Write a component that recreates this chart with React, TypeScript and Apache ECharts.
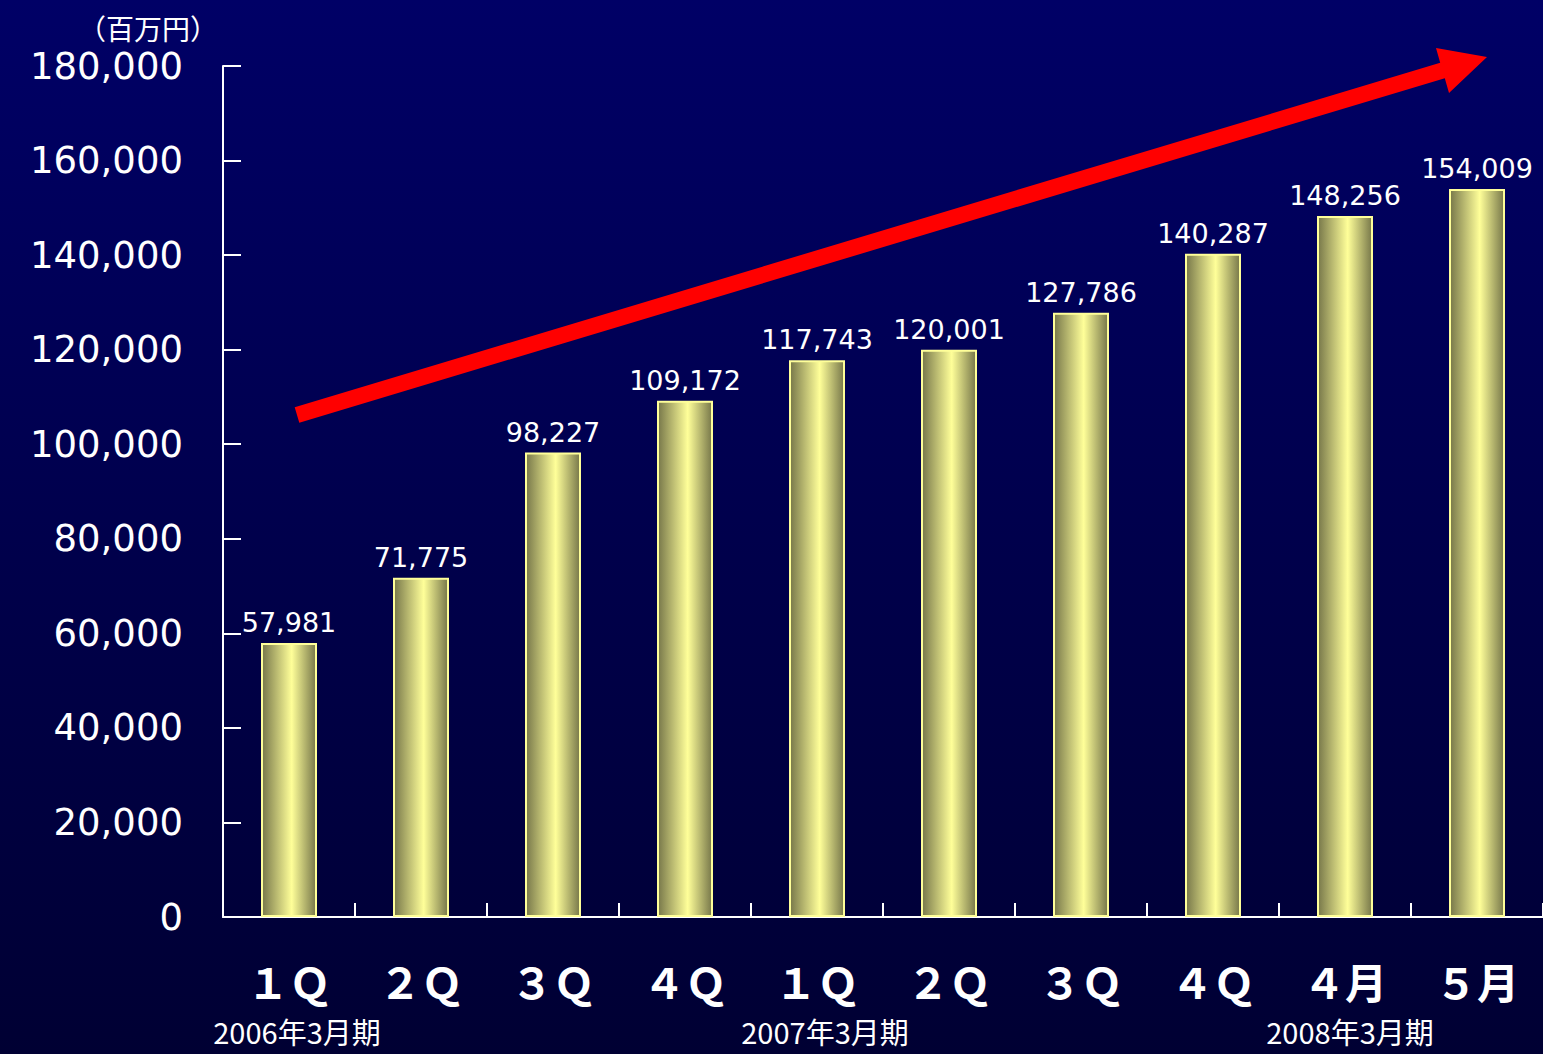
import React, { useEffect, useRef } from "react";
import * as echarts from "echarts";

const categories = ["１Ｑ", "２Ｑ", "３Ｑ", "４Ｑ", "１Ｑ", "２Ｑ", "３Ｑ", "４Ｑ", "４月", "５月"];
const values = [57981, 71775, 98227, 109172, 117743, 120001, 127786, 140287, 148256, 154009];
const periodLabels = ["2006年3月期", "2007年3月期", "2008年3月期"];
const unitLabel = "（百万円）";

const fmt = (v: number) => v.toLocaleString("en-US");

export default function App() {
  const ref = useRef<HTMLDivElement>(null);
  useEffect(() => {
    if (!ref.current) return;
    const chart = echarts.init(ref.current, undefined, { renderer: "svg" });
    const barGrad = new echarts.graphic.LinearGradient(0, 0, 1, 0, [
      { offset: 0, color: "#77774a" },
      { offset: 0.55, color: "#ffff99" },
      { offset: 1, color: "#77774a" },
    ]);
    chart.setOption({
      animation: false,
      backgroundColor: "transparent",
      grid: { left: 223, right: 0, top: 66, bottom: 137, containLabel: false },
      xAxis: {
        type: "category",
        data: categories,
        axisLine: { show: true, lineStyle: { color: "#ffffff", width: 2 } },
        axisTick: { show: true, inside: true, length: 14, lineStyle: { color: "#ffffff", width: 2 } },
        axisLabel: {
          color: "#ffffff",
          fontSize: 42,
          fontWeight: "bold",
          fontFamily: "Noto Sans CJK JP",
          margin: 42,
          interval: 0,
        },
        splitLine: { show: false },
      },
      yAxis: {
        type: "value",
        min: 0,
        max: 180000,
        interval: 20000,
        axisLine: { show: true, lineStyle: { color: "#ffffff", width: 2 } },
        axisTick: { show: true, inside: true, length: 18, lineStyle: { color: "#ffffff", width: 2 } },
        axisLabel: {
          color: "#ffffff",
          fontSize: 37,
          fontFamily: "DejaVu Sans",
          margin: 40,
          formatter: (v: number) => fmt(v),
        },
        splitLine: { show: false },
      },
      series: [
        {
          type: "bar",
          data: values,
          barWidth: 56,
          itemStyle: { color: barGrad, borderColor: "#ffff99", borderWidth: 2 },
          label: {
            show: true,
            position: "top",
            distance: 7,
            color: "#ffffff",
            fontSize: 27,
            fontFamily: "DejaVu Sans",
            formatter: (p: any) => fmt(p.value),
          },
        },
      ],
      graphic: [
        {
          type: "polygon",
          shape: {
            points: [
              [294.7, 407.3],
              [1440.2, 62.8],
              [1436, 48],
              [1487, 57],
              [1449, 93],
              [1444.8, 78.2],
              [299.3, 422.7],
            ],
          },
          style: { fill: "#ff0000" },
          z: 100,
        },
        {
          type: "text",
          x: 148,
          y: 28,
          style: {
            text: unitLabel,
            fill: "#ffffff",
            font: "28px 'Noto Sans CJK JP'",
            textAlign: "center",
            textVerticalAlign: "middle",
          },
        },
        ...[297, 825, 1350].map((x, i) => ({
          type: "text",
          x,
          y: 1031,
          style: {
            text: periodLabels[i],
            fill: "#ffffff",
            font: "29px 'Noto Sans CJK JP'",
            textAlign: "center",
            textVerticalAlign: "middle",
          },
        })),
      ],
    });
    return () => chart.dispose();
  }, []);
  return (
    <div
      ref={ref}
      style={{
        position: "fixed",
        left: 0,
        top: 0,
        width: 1543,
        height: 1054,
        background: "linear-gradient(to bottom, #000066 0%, #000033 100%)",
      }}
    />
  );
}
